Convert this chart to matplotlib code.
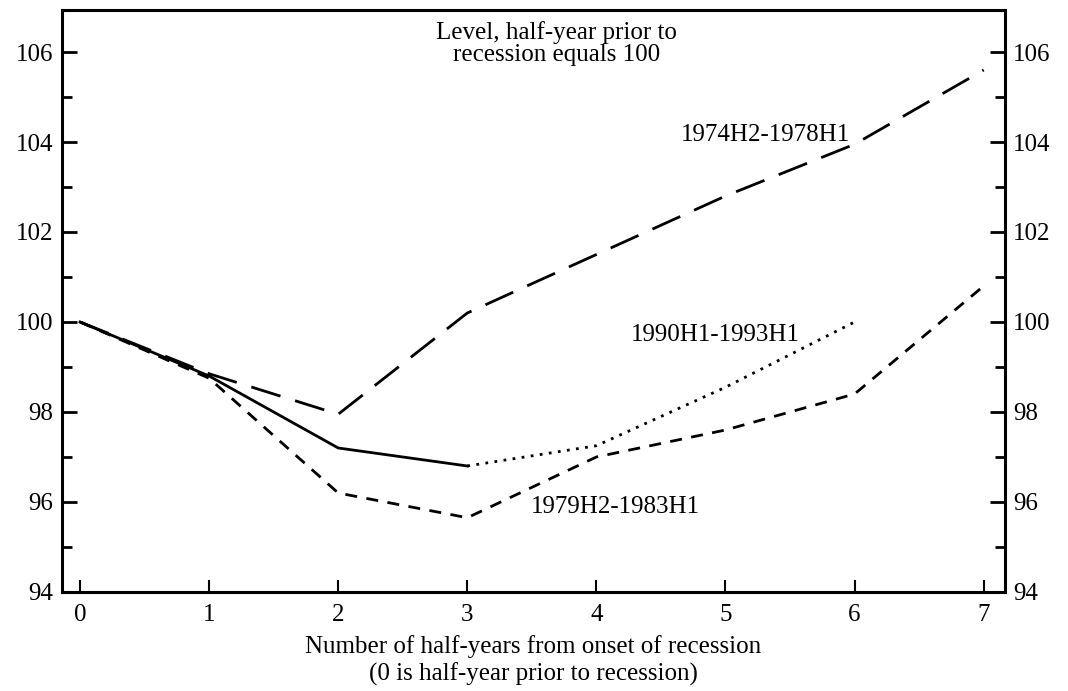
import matplotlib.pyplot as plt
from matplotlib.ticker import MultipleLocator

# half-years from onset of recession
periods = [0, 1, 2, 3, 4, 5, 6, 7]

# level, half-year prior to recession = 100
rec_1974 = [100.0, 98.85, 97.95, 100.2, 101.5, 102.8, 103.95, 105.6]
rec_1979 = [100.0, 98.75, 96.2, 95.65, 97.0, 97.6, 98.4, 100.8]

# 1990 episode: solid part, then dotted part
periods_1990_solid = [0, 1, 2, 3]
rec_1990_solid = [100.0, 98.8, 97.2, 96.8]
periods_1990_dotted = [3, 4, 5, 6]
rec_1990_dotted = [96.8, 97.25, 98.55, 100.0]

y_ticks = [94, 96, 98, 100, 102, 104, 106]


def main():
    plt.rcParams["font.family"] = ["Liberation Serif", "DejaVu Serif"]
    fig = plt.figure(figsize=(10.68, 6.91), dpi=100)
    ax = fig.add_axes([0.058, 0.1433, 0.883, 0.842])

    lw = 2.0
    ax.plot(periods, rec_1974, color="black", lw=lw, linestyle=(0, (11, 5.5)))
    ax.plot(periods, rec_1979, color="black", lw=lw, linestyle=(0, (4.3, 3.4)))
    ax.plot(periods_1990_solid, rec_1990_solid, color="black", lw=lw)
    ax.plot(periods_1990_dotted, rec_1990_dotted, color="black", lw=lw,
            linestyle=(0, (1, 2.3)))

    ax.set_xlim(-0.14, 7.165)
    ax.set_ylim(94, 106.93)

    ax.set_xticks(periods)
    ax.set_yticks(y_ticks)
    ax.yaxis.set_minor_locator(MultipleLocator(1))

    ax.tick_params(axis="y", which="both", direction="in", right=True,
                   labelright=True, labelsize=18, width=2, pad=6)
    ax.tick_params(axis="y", which="major", length=11)
    ax.tick_params(axis="y", which="minor", length=7)
    ax.tick_params(axis="x", direction="in", length=9, width=1.5,
                   labelsize=18, pad=9, top=False)

    for side in ["left", "right", "bottom", "top"]:
        ax.spines[side].set_linewidth(2.2)

    ax.set_xlabel("Number of half-years from onset of recession\n"
                  "(0 is half-year prior to recession)",
                  fontsize=18, linespacing=1.25, labelpad=6)

    ax.text(3.69, 106.19, "Level, half-year prior to\nrecession equals 100",
            ha="center", va="center", fontsize=18, linespacing=1.05)
    ax.text(5.31, 104.16, "1974H2-1978H1", ha="center", va="center", fontsize=18)
    ax.text(4.92, 99.71, "1990H1-1993H1", ha="center", va="center", fontsize=18)
    ax.text(4.15, 95.89, "1979H2-1983H1", ha="center", va="center", fontsize=18)

    fig.savefig("out.png", dpi=100)
    plt.close(fig)


if __name__ == "__main__":
    main()
